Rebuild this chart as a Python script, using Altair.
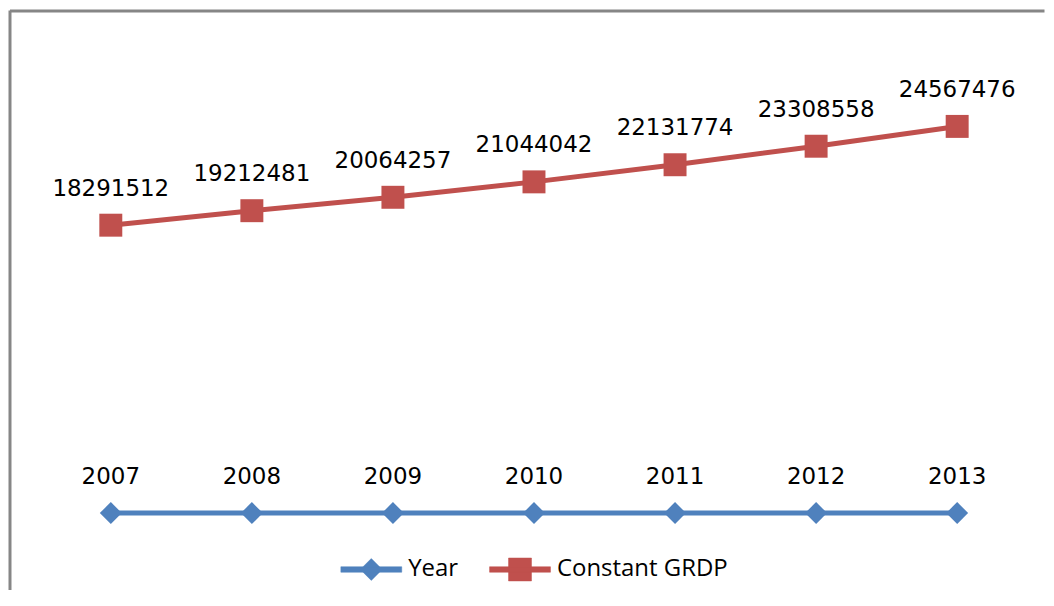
import altair as alt
import pandas as pd

years = [2007, 2008, 2009, 2010, 2011, 2012, 2013]
year_values = [2007, 2008, 2009, 2010, 2011, 2012, 2013]
grdp_values = [18291512, 19212481, 20064257, 21044042, 22131774, 23308558, 24567476]
series_names = ["Year", "Constant GRDP"]
series_colors = ["#4F81BD", "#C0504D"]

df_year = pd.DataFrame({"year": years, "value": year_values, "series": series_names[0]})
df_grdp = pd.DataFrame({"year": years, "value": grdp_values, "series": series_names[1]})

W, H = 1040, 584

x_enc = alt.X("year:Q", scale=alt.Scale(domain=[2007, 2013], range=[103, 951], nice=False, zero=False), axis=None)
y_enc = alt.Y("value:Q", scale=alt.Scale(domain=[0, 30000000], range=[505.5, 32.4], nice=False, zero=False), axis=None)

path_year = "M-1,-0.09H1V0.09H-1Z M-0.36,0L0,-0.36L0.36,0L0,0.36Z"
path_grdp = "M-1,-0.09H1V0.09H-1Z M-0.377,-0.377H0.377V0.377H-0.377Z"


def make_legend(path, color, lx):
    return alt.Legend(
        title=None, orient="none", legendX=lx, legendY=531,
        symbolType=path, symbolSize=3721,
        symbolFillColor=color, symbolStrokeColor=color, symbolStrokeWidth=0.5,
        labelFont="Open Sans", labelFontSize=24, labelColor="#000000",
        labelOffset=6, padding=0, labelLimit=400,
    )


def series_layer(df, name, color, shape, size, lx, path):
    base = alt.Chart(df).encode(x=x_enc, y=y_enc)
    line = base.mark_line(strokeWidth=5).encode(
        color=alt.Color("series:N", scale=alt.Scale(domain=[name], range=[color]),
                        legend=make_legend(path, color, lx))
    )
    pts = base.mark_point(shape=shape, size=size, filled=True, color=color, opacity=1, strokeWidth=0)
    labels = base.mark_text(font="DejaVu Sans", fontSize=23, dy=-29.5, baseline="alphabetic",
                            align="center", color="#000000").encode(
        text=alt.Text("value:Q", format="d")
    )
    return alt.layer(line, pts, labels)


s_year = series_layer(df_year, series_names[0], series_colors[0], "diamond", 484, 333, path_year)
s_grdp = series_layer(df_grdp, series_names[1], series_colors[1], "square", 529, 482, path_grdp)

frame_df = pd.DataFrame({"k": [0]})
top = alt.Chart(frame_df).mark_rule(color="#868686", strokeWidth=3).encode(
    x=alt.value(2), x2=alt.value(W - 1.5), y=alt.value(2.5))
left = alt.Chart(frame_df).mark_rule(color="#868686", strokeWidth=3).encode(
    x=alt.value(2), y=alt.value(2), y2=alt.value(H - 1.5))

chart = alt.layer(top, left, s_year, s_grdp).resolve_scale(color="independent").properties(
    width=W, height=H, padding=0
).configure_view(stroke=None)

chart.save("out.html", embed_options={"renderer": "svg", "actions": False})
